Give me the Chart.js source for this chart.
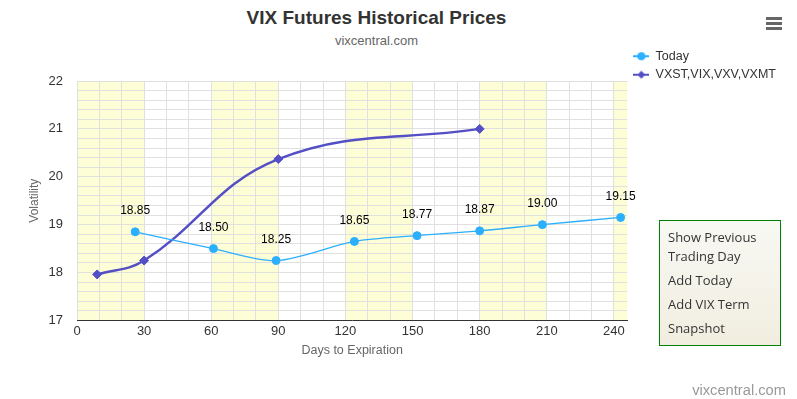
<!DOCTYPE html>
<html>
<head>
<meta charset="utf-8">
<script src="https://cdn.jsdelivr.net/npm/chart.js@4.4.1/dist/chart.umd.min.js"></script>
<style>
  html, body { margin: 0; padding: 0; background: #fff; }
  body { width: 797px; height: 399px; position: relative; overflow: hidden; font-family: 'Liberation Sans', Arial, sans-serif; }
  #title { position: absolute; left: 0; top: 8px; width: 753px; text-align: center; font-weight: bold; font-size: 19px; line-height: 20px; color: #333; }
  #subtitle { position: absolute; left: 0; top: 33px; width: 753px; text-align: center; font-size: 13px; line-height: 16px; color: #666; }
  #menuIcon { position: absolute; left: 766px; top: 17px; width: 16px; }
  #menuIcon div { height: 3px; background: #666; margin-bottom: 2px; }
  #chartBox { position: absolute; left: 0; top: 44px; width: 797px; height: 355px; }
  #menu { position: absolute; left: 659px; top: 220px; width: 120px; height: 124px; border: 1px solid #008000;
          background: linear-gradient(#f8f8f3, #f1eee0); font-family: 'Open Sans', sans-serif; font-size: 13px; color: #333; }
  #menu div { position: absolute; left: 8px; line-height: 19px; }
  #credit { position: absolute; right: 11px; top: 381px; font-size: 14.7px; line-height: 18px; color: #999; }
</style>
</head>
<body>
<div id="title">VIX Futures Historical Prices</div>
<div id="subtitle">vixcentral.com</div>
<div id="menuIcon"><div></div><div></div><div></div></div>
<div id="chartBox"><canvas id="vixChart" width="797" height="355"></canvas></div>
<div id="menu">
  <div style="top:7px">Show Previous<br>Trading Day</div>
  <div style="top:50px">Add Today</div>
  <div style="top:74px">Add VIX Term</div>
  <div style="top:98px">Snapshot</div>
</div>
<div id="credit">vixcentral.com</div>
<script>
// days to expiration / prices
const todayDays = [26, 61, 89, 124, 152, 180, 208, 243];
const todayValues = [18.85, 18.50, 18.25, 18.65, 18.77, 18.87, 19.00, 19.15];
const termDays = [9, 30, 90, 180];
const termValues = [17.96, 18.25, 20.37, 21.00];
const seriesNames = ['Today', 'VXST,VIX,VXV,VXMT'];
const bandStarts = [0, 60, 120, 180, 240];
const bandWidth = 30;

const blue = '#2caffe';
const purple = '#544fc5';

Chart.defaults.font.family = "'Liberation Sans', Arial, sans-serif";

// legend symbol: short line with the marker on it
function legendIcon(color, shape) {
    const c = document.createElement('canvas');
    c.width = 16; c.height = 10;
    const g = c.getContext('2d');
    g.strokeStyle = color; g.fillStyle = color; g.lineWidth = 2;
    g.beginPath(); g.moveTo(0, 5); g.lineTo(16, 5); g.stroke();
    g.beginPath();
    if (shape === 'circle') {
        g.arc(8, 5, 4, 0, Math.PI * 2);
    } else {
        g.moveTo(8, 1); g.lineTo(12, 5); g.lineTo(8, 9); g.lineTo(4, 5); g.closePath();
    }
    g.fill();
    return c;
}
const legendIcons = [legendIcon(blue, 'circle'), legendIcon(purple, 'diamond')];

const bandsPlugin = {
    id: 'bands',
    beforeDraw(chart) {
        const {ctx, chartArea} = chart;
        const x = chart.scales.x;
        ctx.save();
        ctx.fillStyle = '#fefed6';
        bandStarts.forEach(s => {
            const x1 = Math.max(x.getPixelForValue(s), chartArea.left);
            const x2 = Math.min(x.getPixelForValue(s + bandWidth), chartArea.right);
            ctx.fillRect(x1, chartArea.top, x2 - x1, chartArea.bottom - chartArea.top);
        });
        ctx.restore();
    }
};

const labelsPlugin = {
    id: 'pointLabels',
    afterDatasetsDraw(chart) {
        const ctx = chart.ctx;
        const meta = chart.getDatasetMeta(0);
        ctx.save();
        ctx.font = "12px 'Liberation Sans', Arial, sans-serif";
        ctx.fillStyle = '#000';
        ctx.textAlign = 'center';
        ctx.textBaseline = 'middle';
        meta.data.forEach((pt, i) => {
            ctx.fillText(todayValues[i].toFixed(2), pt.x, pt.y - 21);
        });
        ctx.restore();
    }
};

const ctx = document.getElementById('vixChart').getContext('2d');
window.vixChart = new Chart(ctx, {
    type: 'line',
    data: {
        datasets: [{
            label: seriesNames[0],
            data: todayDays.map((d, i) => ({x: d, y: todayValues[i]})),
            borderColor: blue,
            backgroundColor: blue,
            borderWidth: 1.3,
            pointStyle: 'circle',
            pointRadius: 4,
            pointBorderWidth: 1,
            tension: 0.3
        }, {
            label: seriesNames[1],
            data: termDays.map((d, i) => ({x: d, y: termValues[i]})),
            borderColor: purple,
            backgroundColor: purple,
            borderWidth: 2.5,
            pointStyle: 'rectRot',
            pointRadius: 4.5,
            pointBorderWidth: 1,
            tension: 0.4
        }]
    },
    options: {
        responsive: false,
        animation: false,
        layout: { padding: { left: 23, right: 11, top: 0, bottom: 36.5 } },
        plugins: {
            title: { display: true, text: '', font: { size: 10 }, padding: { top: 25, bottom: 0 } },
            tooltip: { enabled: false },
            legend: {
                position: 'right',
                align: 'start',
                labels: {
                    usePointStyle: true,
                    pointStyleWidth: 16,
                    padding: 6,
                    color: '#333',
                    font: { size: 12.5 },
                    generateLabels(chart) {
                        const items = Chart.defaults.plugins.legend.labels.generateLabels(chart);
                        items.forEach(it => { it.pointStyle = legendIcons[it.datasetIndex]; });
                        return items;
                    }
                }
            }
        },
        scales: {
            x: {
                type: 'linear',
                min: 0,
                max: 246,
                afterBuildTicks(scale) {
                    const t = [];
                    for (let v = 0; v <= 240; v += 10) t.push({value: v});
                    scale.ticks = t;
                },
                ticks: {
                    autoSkip: false,
                    maxRotation: 0,
                    padding: 3,
                    color: '#333',
                    font: { size: 13 },
                    callback: v => (v % 30 === 0 ? v : '')
                },
                grid: { color: '#e0e0e0', drawTicks: false },
                border: { color: '#333', width: 1 },
                title: { display: true, text: 'Days to Expiration', color: '#666', font: { size: 12.5 }, padding: { top: 1.5, bottom: 4 } }
            },
            y: {
                min: 17,
                max: 22,
                afterFit(scale) { scale.width = 54; },
                ticks: {
                    stepSize: 0.2,
                    autoSkip: false,
                    padding: 14,
                    color: '#333',
                    font: { size: 13 },
                    callback: v => (Math.abs(v - Math.round(v)) < 1e-6 ? Math.round(v) : '')
                },
                grid: { color: '#e0e0e0', drawTicks: false },
                border: { display: false },
                title: { display: true, text: 'Volatility', color: '#666', font: { size: 12 }, padding: { top: 4, bottom: 7 } }
            }
        }
    },
    plugins: [bandsPlugin, labelsPlugin]
});
</script>
</body>
</html>
